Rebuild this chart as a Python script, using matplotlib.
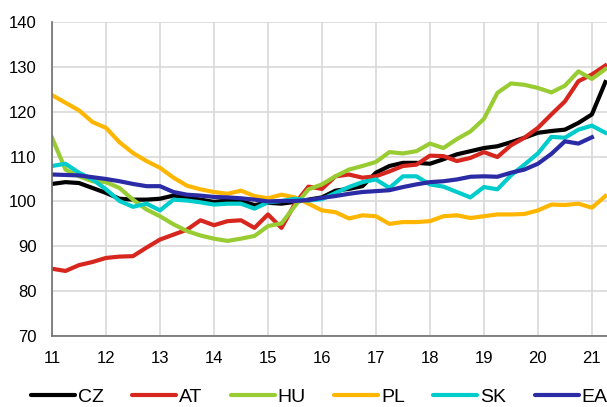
import matplotlib
matplotlib.use("Agg")
import matplotlib.pyplot as plt
import numpy as np

plt.rcParams["font.family"] = ["Liberation Sans", "DejaVu Sans"]

# quarterly index, 2011Q1 .. 2021Q2 (x axis in years, "11" = 2011)
x_all = np.arange(42) * 0.25 + 11
x_ea = x_all[:41]

cz = [103.9, 104.3, 104.1, 103.0, 101.9, 100.6, 100.4, 100.4, 100.6, 101.3, 100.9, 100.4,
      99.9, 100.2, 100.1, 99.2, 99.7, 99.5, 99.9, 100.4, 100.9, 102.4, 102.8, 103.4,
      106.4, 107.9, 108.6, 108.6, 108.4, 109.4, 110.5, 111.2, 111.9, 112.3, 113.2, 114.2,
      115.3, 115.7, 116.0, 117.5, 119.4, 126.6]
at = [85.0, 84.5, 85.8, 86.5, 87.4, 87.7, 87.8, 89.7, 91.5, 92.6, 93.7, 95.8,
      94.7, 95.6, 95.8, 94.1, 97.1, 94.1, 99.5, 103.3, 102.8, 105.6, 106.0, 105.3,
      105.6, 106.7, 107.9, 108.2, 110.2, 110.1, 109.0, 109.7, 111.0, 109.9, 112.5, 114.2,
      116.4, 119.4, 122.3, 126.8, 128.3, 130.3]
hu = [114.2, 107.1, 105.6, 104.5, 104.3, 103.0, 100.4, 98.2, 96.7, 94.9, 93.4, 92.4,
      91.7, 91.2, 91.7, 92.3, 94.5, 95.1, 99.0, 102.7, 103.8, 105.6, 107.1, 107.9,
      108.8, 111.0, 110.7, 111.2, 112.9, 111.9, 113.9, 115.6, 118.4, 124.2, 126.3, 126.0,
      125.3, 124.3, 125.8, 129.0, 127.3, 129.5]
pl = [123.7, 122.0, 120.3, 117.7, 116.4, 113.2, 110.8, 109.0, 107.5, 105.3, 103.5, 102.7,
      102.1, 101.7, 102.4, 101.2, 100.7, 101.5, 100.9, 99.5, 98.0, 97.6, 96.2, 96.9,
      96.7, 95.0, 95.4, 95.4, 95.6, 96.7, 96.9, 96.3, 96.7, 97.1, 97.1, 97.2,
      98.0, 99.3, 99.2, 99.5, 98.6, 101.2]
sk = [107.9, 108.4, 106.4, 104.9, 102.7, 100.1, 98.8, 99.5, 98.0, 100.4, 100.2, 99.8,
      99.3, 99.5, 99.5, 98.4, 99.8, 100.1, 100.6, 100.2, 100.5, 101.9, 103.2, 104.3,
      104.9, 103.0, 105.6, 105.6, 103.8, 103.3, 102.1, 100.9, 103.2, 102.7, 105.8, 108.2,
      110.7, 114.4, 114.2, 116.0, 116.9, 115.3]
ea = [106.0, 105.9, 105.8, 105.4, 105.0, 104.5, 103.9, 103.4, 103.4, 102.1, 101.5, 101.3,
      101.0, 100.9, 100.7, 100.4, 100.0, 100.1, 100.1, 100.3, 100.8, 101.2, 101.7, 102.1,
      102.3, 102.5, 103.2, 103.8, 104.3, 104.5, 104.9, 105.5, 105.6, 105.5, 106.4, 107.1,
      108.4, 110.6, 113.4, 112.9, 114.3]

labels = ["CZ", "AT", "HU", "PL", "SK", "EA"]
colors = ["#000000", "#d7261e", "#99cc33", "#ffb600", "#00cccc", "#2b2ba6"]

fig = plt.figure(figsize=(6.07, 4.07), dpi=100)
ax = fig.add_axes([52 / 607, 1 - 336 / 407, 555 / 607, 314 / 407])

series = [(x_all, cz), (x_all, at), (x_all, hu), (x_all, pl), (x_all, sk), (x_ea, ea)]
for (xs, ys), lab, col in zip(series, labels, colors):
    ax.plot(xs, ys, color=col, lw=3, label=lab, solid_joinstyle="round")

ax.set_xlim(11, 21 + 0.28)
ax.set_ylim(70, 140)
ax.set_xticks(range(11, 22))
ax.set_yticks(range(70, 141, 10))
ax.grid(True, color="#d9d9d9", lw=1.2)
ax.set_axisbelow(True)
for side in ["top", "right"]:
    ax.spines[side].set_visible(False)
for side in ["left", "bottom"]:
    ax.spines[side].set_color("#6e6e6e")
    ax.spines[side].set_linewidth(1.2)
ax.tick_params(length=0, labelsize=12, colors="#000000")
ax.tick_params(axis="x", pad=11)
ax.tick_params(axis="y", pad=11)

leg = fig.legend(loc="center", bbox_to_anchor=(0.526, 1 - 397 / 407), ncol=6, frameon=False,
                 fontsize=14, handlelength=2.27, handletextpad=0.15, columnspacing=1.45,
                 borderpad=0, borderaxespad=0)
for line in leg.get_lines():
    line.set_solid_capstyle("round")

fig.savefig("out.png", dpi=100)
